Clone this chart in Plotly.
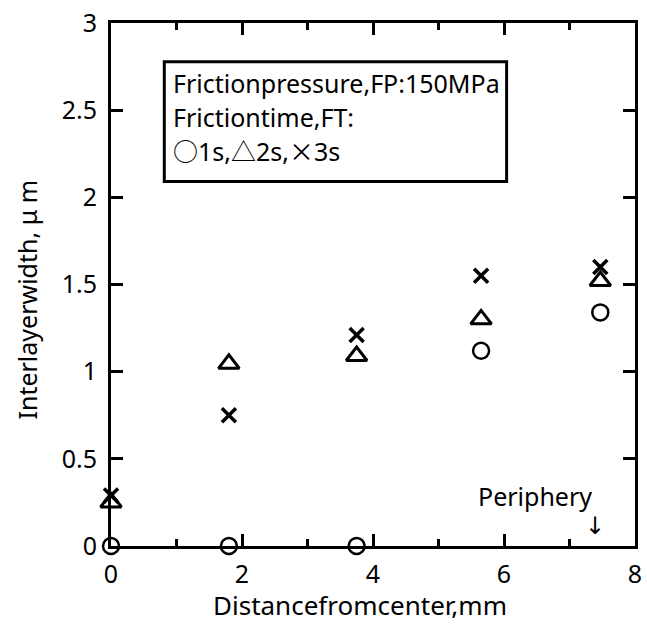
import plotly.graph_objects as go

# Distance from the weld centre (mm) where the interlayer was measured
distance_mm = [0, 1.8, 3.75, 5.65, 7.47]

# Interlayer width (µm) for each friction time
width_ft1s = [0.0, 0.0, 0.0, 1.12, 1.34]
width_ft2s = [0.25, 1.045, 1.09, 1.30, 1.52]
width_ft3s = [0.29, 0.75, 1.21, 1.55, 1.60]

x_ticks = [0, 2, 4, 6, 8]
y_ticks = [0, 0.5, 1, 1.5, 2, 2.5, 3]
y_tick_text = ["0", "0.5", "1", "1.5", "2", "2.5", "3"]

FONT = "Noto Sans, Noto Sans CJK JP"
SYM = "<span style=\"font-family:Noto Sans CJK JP\">{}</span>"

fig = go.Figure()

series = [
    (width_ft1s, "circle-open", 16, 2.5),
    (width_ft2s, "triangle-up-open", 18, 3),
    (width_ft3s, "x-thin-open", 14, 3.5),
]
for values, symbol, size, lw in series:
    fig.add_trace(go.Scatter(
        x=distance_mm, y=values, mode="markers",
        marker=dict(symbol=symbol, size=size, color="black",
                    line=dict(color="black", width=lw)),
        cliponaxis=False, showlegend=False,
    ))

axis_common = dict(
    showline=True, linecolor="black", linewidth=3, mirror="allticks",
    ticks="inside", ticklen=12, tickwidth=3, tickcolor="black",
    showgrid=False, zeroline=False, ticklabeloverflow="allow",
    tickfont=dict(family=FONT, size=25, color="black"),
)

fig.update_xaxes(
    range=[0, 8], tickvals=x_ticks, ticklabelstandoff=4,
    minor=dict(dtick=1, ticks="inside", ticklen=7, tickwidth=3, tickcolor="black"),
    **axis_common,
)
fig.update_yaxes(
    range=[0, 3], tickvals=y_ticks, ticktext=y_tick_text, ticklabelstandoff=6,
    **axis_common,
)

# Axis titles
fig.add_annotation(xref="paper", yref="paper", x=0.4746, y=-0.1136,
                   text="Distancefromcenter,mm", showarrow=False,
                   xanchor="center", yanchor="middle",
                   font=dict(family=FONT, size=26, color="black"))
fig.add_annotation(xref="paper", yref="paper", x=-0.160, y=0.4716,
                   text="Interlayerwidth, μ m", showarrow=False, textangle=-90,
                   xanchor="center", yanchor="middle",
                   font=dict(family=FONT, size=25, color="black"))

# Boxed note with the welding conditions
fig.add_shape(type="rect", xref="paper", yref="paper",
              x0=0.1017, x1=0.755, y0=0.697, y1=0.926,
              line=dict(color="black", width=3), fillcolor="white", layer="below")
note_lines = [
    "Frictionpressure,FP:150MPa",
    "Frictiontime,FT:",
    SYM.format("○") + "1s," + SYM.format("△") + "2s," + SYM.format("×") + "3s",
]
for text, yp in zip(note_lines, [0.886, 0.820, 0.758]):
    fig.add_annotation(xref="paper", yref="paper", x=0.115, y=yp,
                       text=text, showarrow=False, xanchor="left", yanchor="middle",
                       font=dict(family=FONT, size=25, color="black"))

fig.add_annotation(x=6.48, y=0.284, text="Periphery", showarrow=False,
                   font=dict(family=FONT, size=25, color="black"))
fig.add_annotation(x=7.39, y=0.114, text="↓", showarrow=False,
                   font=dict(family="DejaVu Sans", size=24, color="black"))

fig.update_layout(
    width=647, height=627,
    margin=dict(l=111, r=5, t=18, b=81),
    paper_bgcolor="white", plot_bgcolor="white",
    font=dict(family=FONT, color="black"),
)

fig.write_html("out.html")
